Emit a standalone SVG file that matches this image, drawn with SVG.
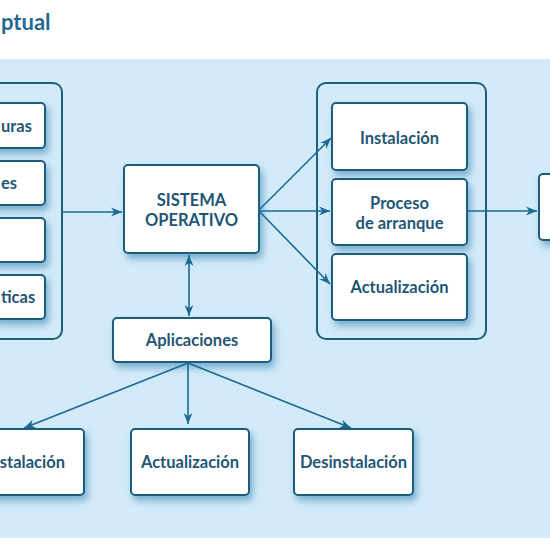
<svg xmlns="http://www.w3.org/2000/svg" width="550" height="550" viewBox="0 0 550 550">
<defs>
<filter id="sh" x="-20%" y="-20%" width="150%" height="160%">
<feDropShadow dx="3" dy="5" stdDeviation="3.5" flood-color="#2f7fae" flood-opacity="0.55"/>
</filter>
<marker id="ah" viewBox="0 0 10 10" refX="10" refY="5" markerWidth="11" markerHeight="11" markerUnits="userSpaceOnUse" orient="auto-start-reverse">
<path d="M0,1 L10,5 L0,9 L3,5 Z" fill="#1b6a92"/>
</marker>
<style>
.box{fill:#ffffff;stroke:#1f5d7e;stroke-width:2;filter:url(#sh)}
.cont{fill:none;stroke:#1f5d7e;stroke-width:2}
.t{font-family:Lato,"Open Sans","Liberation Sans",sans-serif;font-weight:bold;font-size:16.5px;fill:#1f5675;text-anchor:middle}
.ts{font-family:Lato,"Open Sans","Liberation Sans",sans-serif;font-weight:bold;font-size:16.5px;fill:#1f5675;text-anchor:start}
.te{font-family:Lato,"Open Sans","Liberation Sans",sans-serif;font-weight:bold;font-size:16.5px;fill:#1f5675;text-anchor:end}
.c{stroke:#1b6a92;stroke-width:1.6;fill:none;marker-end:url(#ah)}
</style>
</defs>
<rect x="0" y="0" width="550" height="550" fill="#ffffff"/>
<text x="1" y="30" style="font-family:Lato,'Open Sans','Liberation Sans',sans-serif;font-weight:bold;font-size:22px;fill:#1f6a90">ptual</text>
<rect x="0" y="59" width="550" height="479" fill="#d3eaf9"/>

<g id="left-group">
<rect class="cont" x="-10" y="83" width="72" height="256" rx="9"/>
</g>
<g id="left1"><rect class="box" x="-10" y="103" width="55" height="45" rx="4"/><text class="ts" x="1" y="132">uras</text></g>
<g id="left2"><rect class="box" x="-10" y="161" width="55" height="44" rx="4"/><text class="ts" x="1" y="189">es</text></g>
<g id="left3"><rect class="box" x="-10" y="218" width="55" height="44" rx="4"/></g>
<g id="left4"><rect class="box" x="-10" y="275" width="55" height="44" rx="4"/><text class="ts" x="1" y="303">ticas</text></g>

<g id="sistema"><rect class="box" x="124" y="165" width="135" height="88" rx="4"/>
<text class="t" x="191.5" y="206">SISTEMA</text><text class="t" x="191.5" y="226">OPERATIVO</text></g>

<g id="aplicaciones"><rect class="box" x="113" y="318" width="158" height="44" rx="4"/><text class="t" x="192" y="346">Aplicaciones</text></g>

<g id="right-group"><rect class="cont" x="317" y="83" width="169" height="256" rx="9"/></g>
<g id="instalacion"><rect class="box" x="332" y="103" width="135" height="67" rx="4"/><text class="t" x="399.5" y="144">Instalación</text></g>
<g id="proceso"><rect class="box" x="332" y="179" width="135" height="66" rx="4"/><text class="t" x="399.5" y="209">Proceso</text><text class="t" x="399.5" y="229">de arranque</text></g>
<g id="actualizacion"><rect class="box" x="332" y="254" width="135" height="66" rx="4"/><text class="t" x="399.5" y="293">Actualización</text></g>
<g id="right-box"><rect class="box" x="539" y="174" width="30" height="66" rx="4"/></g>

<g id="bottom-inst"><rect class="box" x="-20" y="429" width="104" height="66" rx="4"/><text class="te" x="65" y="468">stalación</text></g>
<g id="bottom-act"><rect class="box" x="131" y="429" width="118" height="66" rx="4"/><text class="t" x="190" y="468">Actualización</text></g>
<g id="bottom-des"><rect class="box" x="294" y="429" width="119" height="66" rx="4"/><text class="t" x="353.5" y="468">Desinstalación</text></g>

<g id="connectors">
<line class="c" x1="62" y1="212" x2="122" y2="212"/>
<line class="c" x1="189" y1="255" x2="189" y2="316" style="marker-start:url(#ah)"/>
<line class="c" x1="259" y1="210" x2="331" y2="138"/>
<line class="c" x1="259" y1="211" x2="330" y2="211"/>
<line class="c" x1="259" y1="211" x2="330" y2="284"/>
<line class="c" x1="467" y1="211" x2="537" y2="211"/>
<line class="c" x1="188" y1="363" x2="24" y2="428"/>
<line class="c" x1="188" y1="363" x2="188" y2="424"/>
<line class="c" x1="188" y1="363" x2="351" y2="428"/>
</g>
</svg>
